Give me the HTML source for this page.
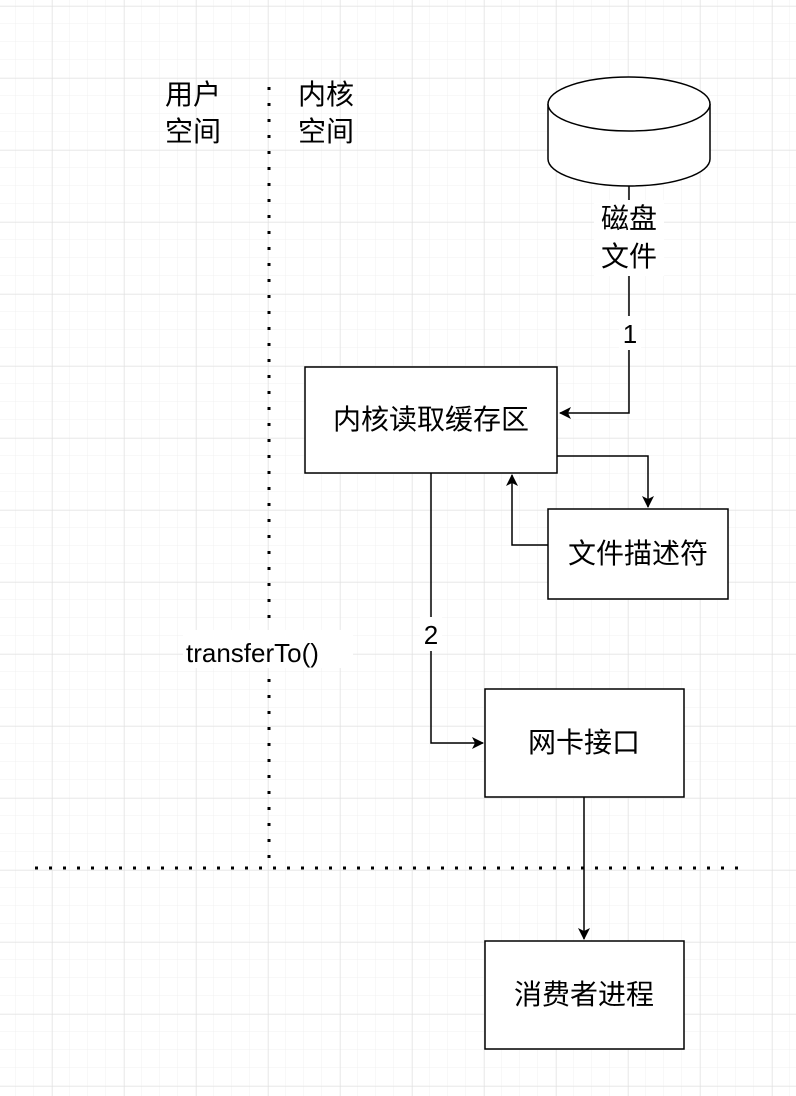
<!DOCTYPE html>
<html><head><meta charset="utf-8"><style>
html,body{margin:0;padding:0;background:#fff}
svg{display:block}
text{font-family:"Liberation Sans","Noto Sans CJK SC",sans-serif;fill:#000}
</style></head><body>
<svg width="796" height="1096" viewBox="0 0 796 1096" xmlns="http://www.w3.org/2000/svg">
<defs>
<pattern id="minor" width="18" height="18" patternUnits="userSpaceOnUse" x="-2" y="-12">
<path d="M18 0V18M0 18H18" fill="none" stroke="#f0f0f0" stroke-width="1"/>
</pattern>
<pattern id="major" width="72" height="72" patternUnits="userSpaceOnUse" x="-20" y="6">
<path d="M0 0V72M0 0H72" fill="none" stroke="#dedede" stroke-width="1"/>
</pattern>
<marker id="ar" viewBox="0 0 12 12" refX="11" refY="6" markerWidth="12" markerHeight="12" markerUnits="userSpaceOnUse" orient="auto">
<path d="M0 0L12 6L0 12L3 6Z" fill="#000"/>
</marker>
</defs>
<rect width="796" height="1096" fill="url(#minor)"/>
<rect width="796" height="1096" fill="url(#major)"/>

<!-- dotted lines -->
<line x1="269" y1="87" x2="269" y2="862" stroke="#000" stroke-width="3" stroke-dasharray="3 13"/>
<line x1="35" y1="868" x2="748" y2="868" stroke="#000" stroke-width="3" stroke-dasharray="3 11"/>

<!-- labels -->
<text x="165" y="104" font-size="28">用户</text>
<text x="165" y="141" font-size="28">空间</text>
<text x="298" y="104" font-size="28">内核</text>
<text x="298" y="141" font-size="28">空间</text>

<!-- cylinder -->
<path d="M548 104 V159 A81 27 0 0 0 710 159 V104" fill="#fff" stroke="#000" stroke-width="1.5"/>
<ellipse cx="629" cy="104" rx="81" ry="27" fill="#fff" stroke="#000" stroke-width="1.5"/>

<!-- connector 1 -->
<polyline points="629,186 629,413 560,413" fill="none" stroke="#000" stroke-width="1.5" marker-end="url(#ar)"/>
<rect x="594" y="200" width="70" height="76" fill="#fff"/>
<text x="629" y="228" font-size="28" text-anchor="middle">磁盘</text>
<text x="629" y="266" font-size="28" text-anchor="middle">文件</text>
<rect x="619" y="316" width="22" height="34" fill="#fff"/>
<text x="630" y="343" font-size="26" text-anchor="middle">1</text>

<!-- boxes -->
<rect x="305" y="367" width="252" height="106" fill="#fff" stroke="#000" stroke-width="1.5"/>
<text x="431" y="429" font-size="28" text-anchor="middle">内核读取缓存区</text>
<rect x="548" y="509" width="180" height="90" fill="#fff" stroke="#000" stroke-width="1.5"/>
<text x="638" y="563" font-size="28" text-anchor="middle">文件描述符</text>
<rect x="485" y="689" width="199" height="108" fill="#fff" stroke="#000" stroke-width="1.5"/>
<text x="584" y="752" font-size="28" text-anchor="middle">网卡接口</text>
<rect x="485" y="941" width="199" height="108" fill="#fff" stroke="#000" stroke-width="1.5"/>
<text x="584" y="1004" font-size="28" text-anchor="middle">消费者进程</text>

<!-- connectors -->
<polyline points="557,456 648,456 648,507" fill="none" stroke="#000" stroke-width="1.5" marker-end="url(#ar)"/>
<polyline points="548,545 512,545 512,475" fill="none" stroke="#000" stroke-width="1.5" marker-end="url(#ar)"/>
<polyline points="431,473 431,743 483,743" fill="none" stroke="#000" stroke-width="1.5" marker-end="url(#ar)"/>
<polyline points="584,797 584,939" fill="none" stroke="#000" stroke-width="1.5" marker-end="url(#ar)"/>
<rect x="420" y="617" width="22" height="34" fill="#fff"/>
<text x="431" y="644" font-size="26" text-anchor="middle">2</text>

<rect x="183" y="630" width="170" height="38" fill="#fff"/>
<text x="186" y="662" font-size="26">transferTo()</text>
</svg>
</body></html>
